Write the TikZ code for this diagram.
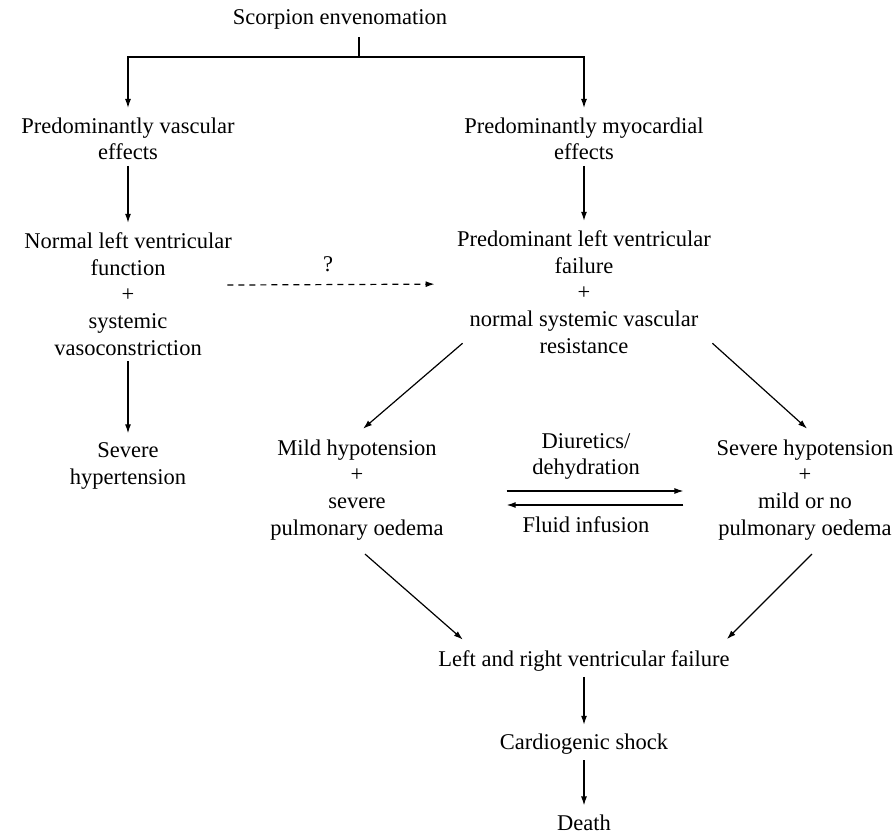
\documentclass[tikz,border=0pt]{standalone}
\usepackage{fontspec}
\setmainfont{Liberation Serif}
\usetikzlibrary{arrows.meta,positioning}

\begin{document}
\begin{tikzpicture}[x=1pt, y=-1pt, align=center, line width=1.2pt, node distance=52pt and 0pt]
    \tikzset{
        n/.style        =   { inner sep=5pt
                            , font=\fontsize{22.5}{26.8}\selectfont
        }
        , arrow/.style  =   { -{Latex[length=9pt,width=6pt]}
                            , shorten >= 4pt
        }
        , guess/.style  =   { arrow
                            , dash pattern=on 6pt off 5pt
        }
    }
    \useasboundingbox (0,0) rectangle (894,834);

    \node(0)[n, inner sep=7pt] at (340,19.8) {Scorpion envenomation};
    \coordinate(fork) at (359,57);
    \node(1)[n] at (128,138.9) {Predominantly vascular\\effects};
    \node(2)[n] at (584,138.9) {Predominantly myocardial\\effects};
    \node(3)[n, below=61pt of 1] {Normal left ventricular\\function\\+\\systemic\\vasoconstriction};
    \node(4)[n, below=59pt of 2] {Predominant left ventricular\\failure\\+\\normal systemic vascular\\resistance};
    \node(5)[n, below=76pt of 3] {Severe\\hypertension};
    \node(6)[n] at (357,490) {Mild hypotension\\+\\severe\\pulmonary oedema};
    \node(7)[n] at (805,490) {Severe hypotension\\+\\mild or no\\pulmonary oedema};
    \node(8)[n] at (586,456.5) {Diuretics/\\dehydration};
    \node(9)[n] at (586,524.4) {Fluid infusion};
    \node(10)[n] at (584,660.8) {Left and right ventricular failure};
    \node(11)[n, below=of 10] {Cardiogenic shock};
    \node(12)[n, below=49pt of 11] {Death};

    \draw (0.south -| fork) -- (fork);
    \draw[arrow] (fork) -| (1);
    \draw[arrow] (fork) -| (2);
    \draw[arrow] (1) -- (3);
    \draw[arrow] (3) -- (5);
    \draw[arrow] (2) -- (4);
    \draw[guess, shorten >= 17pt] ([xshift=-10pt,yshift=9pt]3.east) -- ([yshift=8pt]4.west)
        node(13)[n, pos=0.45, above=7pt] {?};
    \draw[arrow, shorten >= 8pt] ([xshift=11pt,yshift=16pt]4.south west) -- (6.north);
    \draw[arrow, shorten >= 8pt] ([xshift=-4pt,yshift=16pt]4.south east) -- ([xshift=8pt]7.north);
    \draw[arrow, shorten <= 57.5pt, shorten >= 27.5pt] ([yshift=-1pt]6.east) -- ([yshift=-1pt]7.west);
    \draw[arrow, shorten <= 27.5pt, shorten >= 57.5pt] ([yshift=-15pt]7.west) -- ([yshift=-15pt]6.east);
    \draw[arrow, shorten >= 8pt] ([xshift=8pt,yshift=-8pt]6.south) -- ([xshift=36pt]10.north west);
    \draw[arrow, shorten >= 8pt] ([xshift=7pt,yshift=-8pt]7.south) -- ([xshift=-14pt]10.north east);
    \draw[arrow] (10) -- (11);
    \draw[arrow] (11) -- (12);
\end{tikzpicture}
\end{document}
